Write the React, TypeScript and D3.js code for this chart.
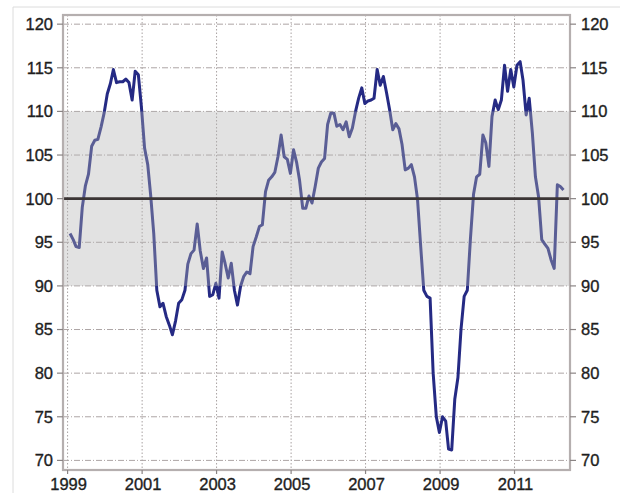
import { useEffect, useRef } from 'react';
import * as d3 from 'd3';

// Monthly index values, Jan 1999 .. Apr 2012
const startYear = 1999;
const values = [
  96.0, 95.3, 94.5, 94.4, 99.0, 101.5, 102.8, 106.0, 106.7, 106.8, 108.2, 109.8,
  112.0, 113.2, 114.8, 113.3, 113.4, 113.4, 113.7, 113.3, 111.3, 114.6, 114.2, 110.5,
  105.8, 103.9, 100.5, 96.0, 89.5, 87.6, 88.0, 86.5, 85.5, 84.4, 86.0, 88.0,
  88.4, 89.5, 92.5, 93.7, 94.1, 97.1, 94.0, 92.0, 93.2, 88.8, 89.0, 90.3,
  88.6, 93.9, 92.6, 90.9, 92.6, 89.5, 87.8, 90.0, 91.1, 91.6, 91.4, 94.5,
  95.6, 96.8, 97.0, 100.8, 102.1, 102.5, 103.0, 104.8, 107.3, 104.8, 104.5, 102.9,
  105.6, 104.1, 102.1, 98.9, 98.9, 100.3, 99.5, 101.4, 103.5, 104.2, 104.6, 108.5,
  109.8, 109.8, 108.3, 108.5, 107.9, 108.8, 107.1, 108.1, 110.0, 111.5, 112.7, 110.9,
  111.2, 111.3, 111.5, 114.8, 113.0, 114.0, 112.2, 110.2, 107.9, 108.6, 108.0, 106.2,
  103.3, 103.5, 103.9, 102.5, 99.9, 94.5, 89.5, 88.8, 88.6, 80.0, 75.0, 73.2,
  75.0, 74.5, 71.3, 71.2, 77.0, 79.5, 85.0, 88.8, 89.5, 95.3, 100.5, 102.5,
  102.8, 107.3, 106.4, 103.7, 109.4, 111.3, 110.2, 111.3, 115.3, 112.3, 114.8, 112.8,
  115.3, 115.7, 113.6, 109.6, 111.5, 107.5, 102.5, 100.2, 95.3, 94.8, 94.3, 93.0,
  92.0, 101.6, 101.4, 101.0,
];
const yTicks = [70, 75, 80, 85, 90, 95, 100, 105, 110, 115, 120];
const xTickYears = [1999, 2001, 2003, 2005, 2007, 2009, 2011];
const bandRange = [90, 110];
const refLevel = 100;

const App = () => {
  const ref = useRef<SVGSVGElement>(null);

  useEffect(() => {
    const svg = d3.select(ref.current);
    svg.selectAll('*').remove();

    const left = 63, right = 570, top = 15, bottom = 470;
    const font = '"Liberation Sans", Arial, sans-serif';

    const x = d3.scaleTime()
      .domain([new Date(1998, 10, 17), new Date(2012, 5, 28)])
      .range([left, right]);
    const y = d3.scaleLinear().domain([68.9, 121.05]).range([bottom, top]);

    const data = values.map((v, i) => ({ date: new Date(startYear, i, 25), v }));

    // outer frame
    svg.append('path')
      .attr('d', 'M13,493 L13,7 L620,7')
      .attr('fill', 'none')
      .attr('stroke', '#dcdcdc')
      .attr('stroke-width', 1);

    // horizontal grid
    svg.append('g')
      .selectAll('line')
      .data(yTicks)
      .join('line')
      .attr('x1', left).attr('x2', right)
      .attr('y1', d => y(d)).attr('y2', d => y(d))
      .attr('stroke', '#ada5a5')
      .attr('stroke-width', 1)
      .attr('stroke-dasharray', '6,2,1,2');

    // vertical grid
    svg.append('g')
      .selectAll('line')
      .data(xTickYears)
      .join('line')
      .attr('x1', d => x(new Date(d, 0, 1))).attr('x2', d => x(new Date(d, 0, 1)))
      .attr('y1', top).attr('y2', bottom)
      .attr('stroke', '#a8a2a2')
      .attr('stroke-width', 1)
      .attr('stroke-dasharray', '1.5,2');

    // series line
    const line = d3.line<{ date: Date; v: number }>()
      .x(d => x(d.date))
      .y(d => y(d.v));
    svg.append('path')
      .datum(data)
      .attr('d', line)
      .attr('fill', 'none')
      .attr('stroke', '#252a84')
      .attr('stroke-width', 3)
      .attr('stroke-linejoin', 'round');

    // shaded band drawn over the line
    svg.append('rect')
      .attr('x', left)
      .attr('width', right - left)
      .attr('y', y(bandRange[1]))
      .attr('height', y(bandRange[0]) - y(bandRange[1]))
      .attr('fill', '#b3b3b3')
      .attr('opacity', 0.38);

    // reference line at 100
    svg.append('line')
      .attr('x1', left).attr('x2', right)
      .attr('y1', y(refLevel)).attr('y2', y(refLevel))
      .attr('stroke', '#3b3535')
      .attr('stroke-width', 2.8);

    // plot border
    svg.append('rect')
      .attr('x', left).attr('y', top)
      .attr('width', right - left).attr('height', bottom - top)
      .attr('fill', 'none')
      .attr('stroke', '#b5afaf')
      .attr('stroke-width', 2.2);

    // ticks
    const tickG = svg.append('g').attr('stroke', '#8a8484').attr('stroke-width', 1.2);
    yTicks.forEach(t => {
      tickG.append('line').attr('x1', left - 6).attr('x2', left).attr('y1', y(t)).attr('y2', y(t));
      tickG.append('line').attr('x1', right).attr('x2', right + 6).attr('y1', y(t)).attr('y2', y(t));
    });
    xTickYears.forEach(t => {
      const xx = x(new Date(t, 0, 1));
      tickG.append('line').attr('x1', xx).attr('x2', xx).attr('y1', bottom).attr('y2', bottom + 4);
    });

    // y labels, both sides
    const labelStyle = (s: d3.Selection<SVGTextElement, number, SVGGElement, unknown>) =>
      s.style('font-family', font)
        .style('font-size', '16.5px')
        .style('fill', '#1e1e1e')
        .style('stroke', '#1e1e1e')
        .style('stroke-width', '0.35px')
        .attr('dy', '0.36em')
        .text(d => d);

    svg.append('g')
      .selectAll('text')
      .data(yTicks)
      .join('text')
      .attr('x', 53)
      .attr('y', d => y(d))
      .attr('text-anchor', 'end')
      .call(labelStyle);

    svg.append('g')
      .selectAll('text')
      .data(yTicks)
      .join('text')
      .attr('x', 581)
      .attr('y', d => y(d))
      .attr('text-anchor', 'start')
      .call(labelStyle);

    // x labels
    svg.append('g')
      .selectAll('text')
      .data(xTickYears)
      .join('text')
      .attr('x', d => x(new Date(d, 0, 1)) + 1)
      .attr('y', 490)
      .attr('text-anchor', 'middle')
      .style('font-family', font)
      .style('font-size', '16.5px')
      .style('fill', '#1e1e1e')
      .style('stroke', '#1e1e1e')
      .style('stroke-width', '0.35px')
      .text(d => d);
  }, []);

  return (
    <svg
      ref={ref}
      width={620}
      height={493}
      style={{ position: 'absolute', left: 0, top: 0, background: '#fff' }}
    />
  );
};

export default App;
